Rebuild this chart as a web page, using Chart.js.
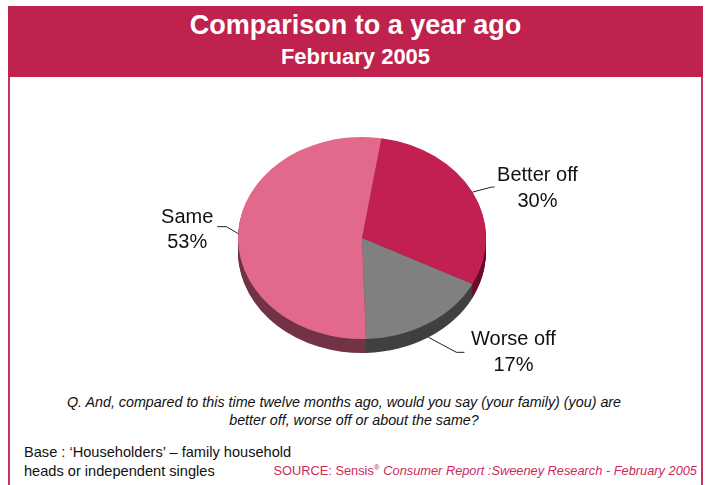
<!DOCTYPE html>
<html>
<head>
<meta charset="utf-8">
<script src="https://cdn.jsdelivr.net/npm/chart.js@4.4.1/dist/chart.umd.min.js"></script>
<style>
  html, body { margin: 0; padding: 0; }
  body { width: 708px; height: 485px; overflow: hidden; background: #fff; position: relative;
         font-family: "Liberation Sans", Arial, sans-serif; color: #111; }
  .frame { position: absolute; left: 8px; top: 6px; width: 691px; height: 520px;
           border-left: 2px solid #c8335f; border-right: 2px solid #c8335f; }
  .banner { position: absolute; left: 8px; top: 6px; width: 695px; height: 71px; background: #c0224e;
            color: #fff; text-align: center; font-weight: bold; }
  .banner .t1 { position: absolute; left: 0; right: 0; top: 2px; font-size: 27px; line-height: 34px; }
  .banner .t2 { position: absolute; left: 0; right: 0; top: 36px; font-size: 22px; line-height: 30px; }
  #wrap { position: absolute; left: 0; top: 98px; width: 708px; height: 280px; }
  .q { position: absolute; width: 708px; text-align: center; font-style: italic;
       font-size: 14.3px; line-height: 18px; white-space: nowrap; }
  .q1 { left: -10px; top: 393px; }
  .q2 { left: 0; top: 411px; }
  .base { position: absolute; left: 24px; top: 443px; font-size: 14.6px; line-height: 18.5px; }
  .source { position: absolute; right: 11px; top: 463px; font-size: 12.8px; color: #cc2a5c; white-space: nowrap; }
  .source sup { font-size: 8px; }
</style>
</head>
<body>
<div class="frame"></div>
<div class="banner">
  <div class="t1">Comparison to a year ago</div>
  <div class="t2">February 2005</div>
</div>
<div id="wrap"><canvas id="pieChart"></canvas></div>
<div class="q q1">Q. And, compared to this time twelve months ago, would you say (your family) (you) are</div>
<div class="q q2">better off, worse off or about the same?</div>
<div class="base">Base : ‘Householders’ – family household<br>heads or independent singles</div>
<div class="source">SOURCE: Sensis<sup>®</sup> <i>Consumer Report :Sweeney Research - February 2005</i></div>

<script>
(() => {
  'use strict'

  // data
  const categories = ['Better off', 'Worse off', 'Same']
  const shares = [30, 17, 53]

  const topColors = ['#c22050', '#808080', '#e2698b']
  const sideColors = ['#6d0c2c', '#404040', '#733347']

  const TILT = 0.815   // vertical squash of the pie
  const DEPTH = 14     // thickness of the side wall

  // leader line + label placement, relative to the slice's rim point
  const labelStyle = [
    { drop: 0,  elbow: [19, -5], tail: 3,  text: [65, -4] },
    { drop: 14, elbow: [28, 15], tail: 8,  text: [85, 15] },
    { drop: 2,  elbow: [-12, -7], tail: -9, text: [-51, -4] }
  ]

  const pie3d = {
    id: 'pie3d',
    beforeDatasetsDraw(chart) {
      const arcs = chart.getDatasetMeta(0).data
      const { x, y, outerRadius: r } = arcs[0]
      const ctx = chart.ctx
      ctx.save()
      // stacked layers for the side wall
      for (let d = DEPTH; d > 0; d--) {
        arcs.forEach((arc, i) => {
          ctx.save()
          ctx.translate(x, y + d)
          ctx.scale(1, TILT)
          ctx.beginPath()
          ctx.moveTo(0, 0)
          ctx.arc(0, 0, r, arc.startAngle, arc.endAngle)
          ctx.closePath()
          ctx.fillStyle = sideColors[i]
          ctx.fill()
          ctx.restore()
        })
      }
      // squash the top face drawn by chart.js
      ctx.translate(x, y)
      ctx.scale(1, TILT)
      ctx.translate(-x, -y)
    },
    afterDatasetsDraw(chart) {
      const ctx = chart.ctx
      ctx.restore()
      const arcs = chart.getDatasetMeta(0).data
      ctx.save()
      ctx.font = '20px "Liberation Sans", Arial, sans-serif'
      ctx.textAlign = 'center'
      ctx.textBaseline = 'middle'
      arcs.forEach((arc, i) => {
        const s = labelStyle[i]
        const mid = (arc.startAngle + arc.endAngle) / 2
        const ax = arc.x + arc.outerRadius * Math.cos(mid)
        const ay = arc.y + arc.outerRadius * TILT * Math.sin(mid) + s.drop
        const ex = ax + s.elbow[0]
        const ey = ay + s.elbow[1]
        ctx.strokeStyle = '#222'
        ctx.lineWidth = 1
        ctx.beginPath()
        ctx.moveTo(ax, ay)
        ctx.lineTo(ex, ey)
        ctx.lineTo(ex + s.tail, ey)
        ctx.stroke()
        const tx = ax + s.text[0]
        const ty = ay + s.text[1]
        ctx.fillStyle = '#111'
        ctx.fillText(categories[i], tx, ty - 12.5)
        ctx.fillText(shares[i] + '%', tx, ty + 13)
      })
      ctx.restore()
    }
  }

  const ctx = document.getElementById('pieChart')

  new Chart(ctx, {
    type: 'pie',
    data: {
      labels: categories,
      datasets: [{
        data: shares,
        backgroundColor: topColors,
        borderWidth: 0,
        hoverOffset: 0
      }]
    },
    options: {
      responsive: true,
      maintainAspectRatio: false,
      animation: false,
      events: [],
      rotation: 9,
      layout: { padding: { left: 238, right: 222, top: 16, bottom: 16 } },
      plugins: {
        legend: { display: false },
        tooltip: { enabled: false }
      }
    },
    plugins: [pie3d]
  })
})()
</script>
</body>
</html>
